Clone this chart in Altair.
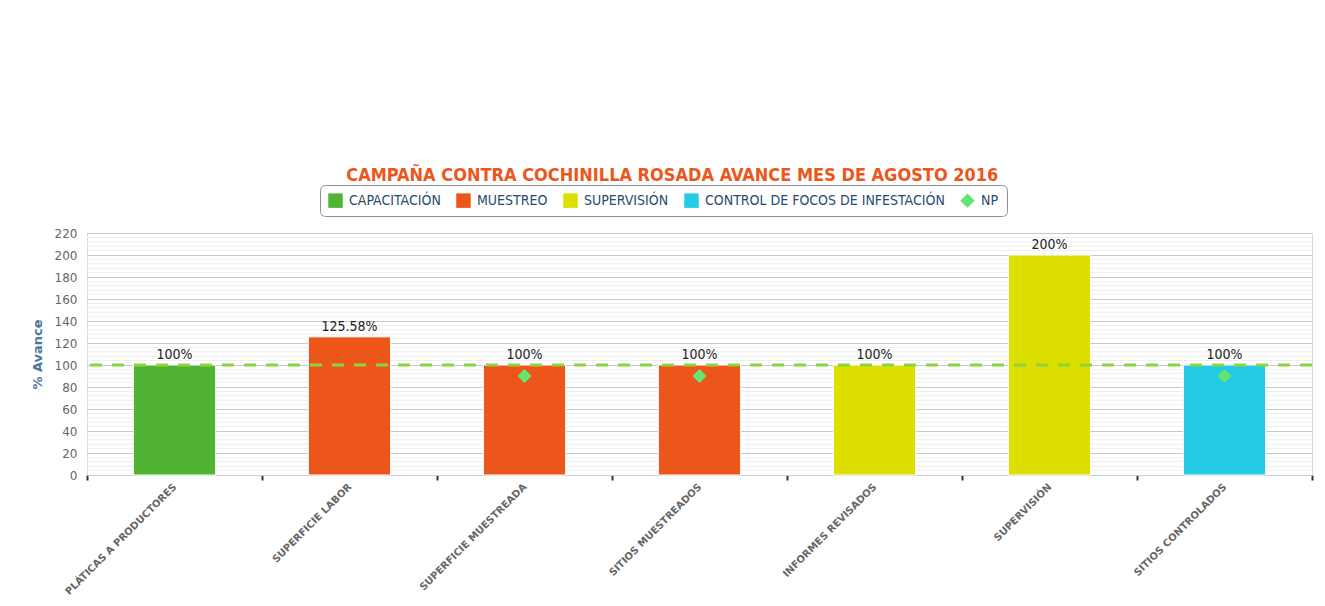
import altair as alt
import pandas as pd

categorias = ["PLÁTICAS A PRODUCTORES", "SUPERFICIE LABOR", "SUPERFICIE MUESTREADA",
              "SITIOS MUESTREADOS", "INFORMES REVISADOS", "SUPERVISIÓN", "SITIOS CONTROLADOS"]
series = ["CAPACITACIÓN", "MUESTREO", "MUESTREO", "MUESTREO",
          "SUPERVISIÓN", "SUPERVISIÓN", "CONTROL DE FOCOS DE INFESTACIÓN"]
avance = [100, 125.58, 100, 100, 100, 200, 100]
np_valores = [None, None, 90, 90, None, None, 90]
meta = [100]

leyenda = ["CAPACITACIÓN", "MUESTREO", "SUPERVISIÓN", "CONTROL DE FOCOS DE INFESTACIÓN", "NP"]
colores = ["#50B432", "#ED561B", "#DDDF00", "#24CBE5", "#64E572"]
formas = ["square", "square", "square", "square", "diamond"]

y_mayores = [0, 20, 40, 60, 80, 100, 120, 140, 160, 180, 200, 220]
y_menores = [v for v in range(0, 221, 4) if v % 20 != 0]

def etiqueta(v):
    return f"{v:g}%"

df = pd.DataFrame({
    "categoria": categorias,
    "serie": series,
    "avance": avance,
    "texto": [etiqueta(v) for v in avance],
})
df_np = pd.DataFrame({
    "categoria": categorias,
    "np": np_valores,
    "serie": ["NP"] * len(categorias),
}).dropna()
df_meta = pd.DataFrame({"meta": meta})
df_menor = pd.DataFrame({"v": y_menores})

FONT_NARROW = "DejaVu Sans Condensed, DejaVu Sans, sans-serif"

x_scale = alt.Scale(paddingInner=0, paddingOuter=0)
x_enc = alt.X(
    "categoria:N", sort=categorias, title=None, scale=x_scale,
    axis=alt.Axis(
        labelAngle=-45, labelAlign="right", labelBaseline="middle",
        labelFont="DejaVu Sans", labelFontWeight="bold",
        labelFontSize=10, labelColor="#666666", labelPadding=5, labelLimit=0,
        tickBand="extent", tickColor="#333333", tickWidth=2, tickSize=5,
        domainColor="#C0D0E0", domainWidth=1, grid=False,
    ),
)
y_scale = alt.Scale(domain=[0, 220], nice=False)
y_axis = alt.Axis(values=y_mayores, domain=False, ticks=False, labelOverlap=False,
                  gridColor="#C8C8C8", labelColor="#666666", labelFontSize=12,
                  labelFont="DejaVu Sans", labelPadding=10,
                  titleColor="#4D759E", titleFontWeight="bold", titleFontSize=13,
                  titleFont="DejaVu Sans", titlePadding=10)
color_scale = alt.Scale(domain=leyenda, range=colores)
shape_scale = alt.Scale(domain=leyenda, range=formas)

menor = alt.Chart(df_menor).mark_rule(color="#EEEEEE", strokeWidth=1).encode(
    y=alt.Y("v:Q", scale=y_scale, title="% Avance", axis=y_axis)
)

barras = alt.Chart(df).mark_bar(stroke="white", strokeWidth=1,
                                width=alt.RelativeBandSize(0.47)).encode(
    x=x_enc,
    y=alt.Y("avance:Q", scale=y_scale, title="% Avance", axis=y_axis),
    color=alt.Color("serie:N", scale=color_scale,
                    legend=alt.Legend(
                        title=None, orient="none", direction="horizontal",
                        legendX=233, legendY=-48,
                        strokeColor="#909090", cornerRadius=5, padding=8,
                        fillColor="white", labelFontSize=14, labelColor="#274B6D",
                        labelFont=FONT_NARROW, labelLimit=0, symbolSize=210,
                        symbolStrokeWidth=0, columnPadding=15, labelOffset=6)),
)

textos = alt.Chart(df).mark_text(dy=-10, fontSize=14, color="#222222",
                                 font="DejaVu Sans Condensed, DejaVu Sans").encode(
    x=alt.X("categoria:N", sort=categorias, scale=x_scale),
    y=alt.Y("avance:Q", scale=y_scale, title="% Avance", axis=y_axis),
    text="texto:N",
)

linea = alt.Chart(df_meta).mark_rule(color="#8CD63C", strokeWidth=3,
                                    strokeDash=[12, 10]).encode(
    y=alt.Y("meta:Q", scale=y_scale, title="% Avance", axis=y_axis)
)

puntos = alt.Chart(df_np).mark_point(filled=True, size=200, opacity=1).encode(
    x=alt.X("categoria:N", sort=categorias, scale=x_scale),
    y=alt.Y("np:Q", scale=y_scale, title="% Avance", axis=y_axis),
    color=alt.Color("serie:N", scale=color_scale),
    shape=alt.Shape("serie:N", scale=shape_scale),
)

chart = alt.layer(menor, barras, textos, linea, puntos).properties(
    width=1225, height=242,
    title=alt.TitleParams(
        "CAMPAÑA CONTRA COCHINILLA ROSADA AVANCE MES DE AGOSTO 2016",
        color="#ED561B", fontSize=18, font=FONT_NARROW, fontWeight="bold",
        anchor="middle", frame="bounds", offset=0,
    ),
    autosize=alt.AutoSizeParams(type="none"),
    padding={"left": 79, "top": 225, "right": 5, "bottom": 122},
).configure_view(stroke="#D8D8D8")

chart.save("out.html", embed_options={"renderer": "svg", "actions": False})
